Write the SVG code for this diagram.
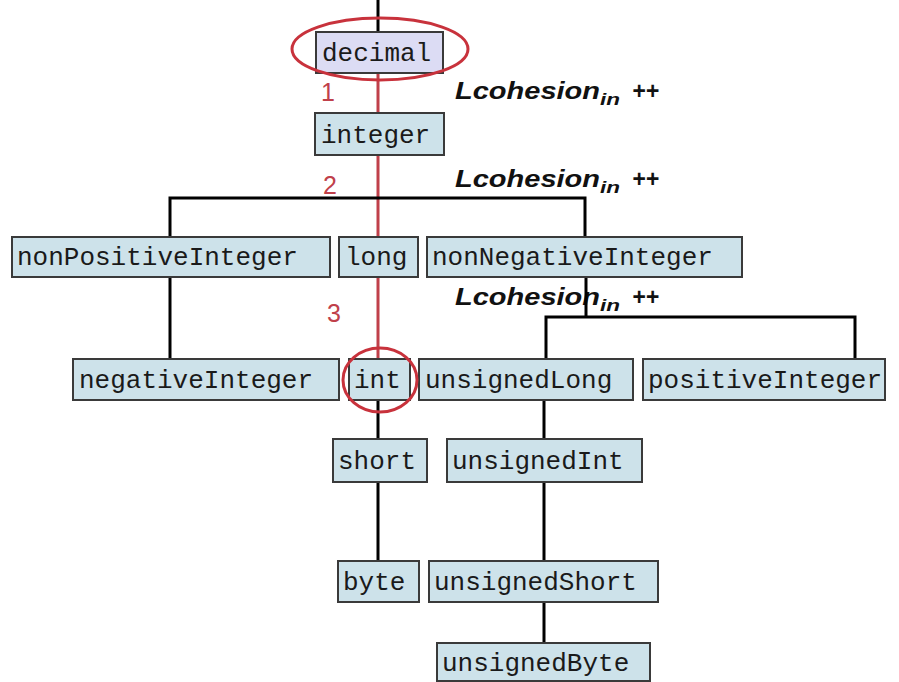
<svg xmlns="http://www.w3.org/2000/svg" width="899" height="682" viewBox="0 0 899 682">
  <style>
    .box { fill: #cde2ea; stroke: #3a3a3a; stroke-width: 2; }
    .box.root { fill: #dcdcf4; }
    .lbl { font-family: "Liberation Mono", "Courier New", monospace; font-size: 26px; fill: #1a1a1a; }
    .edge { fill: none; stroke: #000; stroke-width: 3; }
    .path { fill: none; stroke: #c0404a; stroke-width: 3; }
    .mark { fill: none; stroke: #c8323c; stroke-width: 3; }
    .step { font-family: "Liberation Sans", Arial, sans-serif; font-size: 25px; fill: #c0404a; }
    .note { font-family: "Liberation Sans", Arial, sans-serif; font-weight: bold; font-style: italic; fill: #111; }
  </style>
  <rect width="899" height="682" fill="#ffffff"/>

  <!-- counter annotations -->
  <g id="annotations">
    <text class="note" x="455" y="99" font-size="23"><tspan textLength="145" lengthAdjust="spacingAndGlyphs">Lcohesion</tspan><tspan font-size="17" dy="6" textLength="20" lengthAdjust="spacingAndGlyphs">in</tspan><tspan dy="-6" x="632">++</tspan></text>
    <text class="note" x="455" y="187" font-size="23"><tspan textLength="145" lengthAdjust="spacingAndGlyphs">Lcohesion</tspan><tspan font-size="17" dy="6" textLength="20" lengthAdjust="spacingAndGlyphs">in</tspan><tspan dy="-6" x="632">++</tspan></text>
    <text class="note" x="455" y="305" font-size="23"><tspan textLength="145" lengthAdjust="spacingAndGlyphs">Lcohesion</tspan><tspan font-size="17" dy="6" textLength="20" lengthAdjust="spacingAndGlyphs">in</tspan><tspan dy="-6" x="632">++</tspan></text>
    <text class="step" x="321" y="101">1</text>
    <text class="step" x="323" y="194">2</text>
    <text class="step" x="327" y="322">3</text>
  </g>

  <!-- hierarchy connectors -->
  <g id="connectors">
    <path class="path" d="M378 73 V359"/>
    <path class="edge" d="M378 0 V32"/>
    <path class="edge" d="M170 237 V198 H585 V237"/>
    <path class="edge" d="M170 277 V359"/>
    <path class="edge" d="M586 277 V317"/>
    <path class="edge" d="M546 359 V317 H855 V359"/>
    <path class="edge" d="M378 400 V439 M378 482 V561"/>
    <path class="edge" d="M544 400 V439 M544 482 V561 M544 602 V643"/>
  </g>

  <g id="decimal"><rect class="box root" x="316" y="32" width="127" height="41"/><text class="lbl" x="322" y="61">decimal</text></g>
  <g id="integer"><rect class="box" x="315" y="113" width="129" height="42"/><text class="lbl" x="321" y="143">integer</text></g>
  <g id="nonPositiveInteger"><rect class="box" x="12" y="237" width="318" height="40"/><text class="lbl" x="17" y="265">nonPositiveInteger</text></g>
  <g id="long"><rect class="box" x="339" y="237" width="79" height="40"/><text class="lbl" x="345" y="265">long</text></g>
  <g id="nonNegativeInteger"><rect class="box" x="427" y="237" width="315" height="40"/><text class="lbl" x="432" y="265">nonNegativeInteger</text></g>
  <g id="negativeInteger"><rect class="box" x="73" y="359" width="266" height="41"/><text class="lbl" x="79" y="388">negativeInteger</text></g>
  <g id="int"><rect class="box" x="349" y="359" width="61" height="41"/><text class="lbl" x="354" y="388">int</text></g>
  <g id="unsignedLong"><rect class="box" x="419" y="359" width="214" height="41"/><text class="lbl" x="425" y="388">unsignedLong</text></g>
  <g id="positiveInteger"><rect class="box" x="643" y="359" width="242" height="41"/><text class="lbl" x="648" y="388">positiveInteger</text></g>
  <g id="short"><rect class="box" x="333" y="439" width="94" height="43"/><text class="lbl" x="338" y="469">short</text></g>
  <g id="unsignedInt"><rect class="box" x="447" y="439" width="195" height="43"/><text class="lbl" x="452" y="469">unsignedInt</text></g>
  <g id="byte"><rect class="box" x="338" y="561" width="81" height="41"/><text class="lbl" x="343" y="590">byte</text></g>
  <g id="unsignedShort"><rect class="box" x="429" y="561" width="229" height="41"/><text class="lbl" x="434" y="590">unsignedShort</text></g>
  <g id="unsignedByte"><rect class="box" x="437" y="643" width="213" height="38"/><text class="lbl" x="442" y="671">unsignedByte</text></g>

  <!-- highlight marks on the traversed path -->
  <g id="highlights">
    <ellipse class="mark" cx="380" cy="49" rx="88" ry="31"/>
    <ellipse class="mark" cx="380" cy="380" rx="37" ry="32"/>
  </g>
</svg>
